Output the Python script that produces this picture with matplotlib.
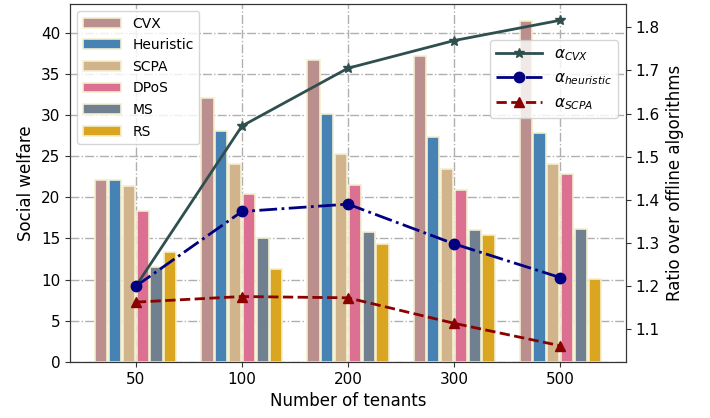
import matplotlib
matplotlib.use("Agg")
import matplotlib.pyplot as plt
import numpy as np

tenants = ["50", "100", "200", "300", "500"]

# social welfare per algorithm
cvx = [22.1, 32.0, 36.7, 37.2, 41.4]
heuristic = [22.1, 28.0, 30.1, 27.3, 27.8]
scpa = [21.4, 24.0, 25.2, 23.4, 24.1]
dpos = [18.3, 20.4, 21.5, 20.9, 22.8]
ms = [11.5, 15.1, 15.8, 16.0, 16.2]
rs = [13.4, 11.3, 14.3, 15.4, 10.1]

# ratio over offline algorithms
alpha_cvx = [1.20, 1.571, 1.705, 1.769, 1.816]
alpha_heuristic = [1.20, 1.373, 1.390, 1.298, 1.220]
alpha_scpa = [1.163, 1.176, 1.173, 1.114, 1.062]

bar_series = [cvx, heuristic, scpa, dpos, ms, rs]
bar_names = ["CVX", "Heuristic", "SCPA", "DPoS", "MS", "RS"]
bar_colors = ["rosybrown", "steelblue", "tan", "palevioletred", "slategray", "goldenrod"]

fig = plt.figure(figsize=(7.1, 4.18), dpi=100)
ax = fig.add_axes([70/710, 1 - 362/418, (626 - 70)/710, (362 - 4)/418])

x = np.arange(len(tenants))
width = 0.115
step = 0.13
for i, (vals, name, col) in enumerate(zip(bar_series, bar_names, bar_colors)):
    ax.bar(x + (i - 2.5) * step, vals, width, color=col, edgecolor="#f3efcf",
           linewidth=1.2, label=name)

ax.set_axisbelow(True)
ax.grid(True, linestyle="-.", color="#b0b0b0", linewidth=1)
ax.set_xticks(x)
ax.set_xticklabels(tenants)
ax.set_yticks(np.arange(0, 41, 5))
ax.tick_params(labelsize=11, color="#333333")
ax.set_xlabel("Number of tenants", fontsize=12)
ax.set_ylabel("Social welfare", fontsize=12)
ax.legend(loc="upper left", fontsize=10, handlelength=2.8, labelspacing=0.55)

ax2 = ax.twinx()
ax2.plot(x, alpha_cvx, color="darkslategray", linestyle="-", marker="*",
         markersize=7.5, linewidth=2, label=r"$\alpha_{CVX}$")
ax2.plot(x, alpha_heuristic, color="navy", linestyle="-.", marker="o",
         markersize=7.5, linewidth=2, label=r"$\alpha_{heuristic}$")
ax2.plot(x, alpha_scpa, color="darkred", linestyle="--", marker="^",
         markersize=7.5, linewidth=2, label=r"$\alpha_{SCPA}$")
ax2.set_yticks([1.1, 1.2, 1.3, 1.4, 1.5, 1.6, 1.7, 1.8])
ax2.tick_params(labelsize=11, color="#333333")
ax2.set_ylabel("Ratio over offline algorithms", fontsize=12)
ax2.legend(loc="upper right", bbox_to_anchor=(1, 0.92), fontsize=11, handlelength=3)
for a in (ax, ax2):
    for s in a.spines.values():
        s.set_color("#333333")

fig.savefig("out.png", dpi=100)
